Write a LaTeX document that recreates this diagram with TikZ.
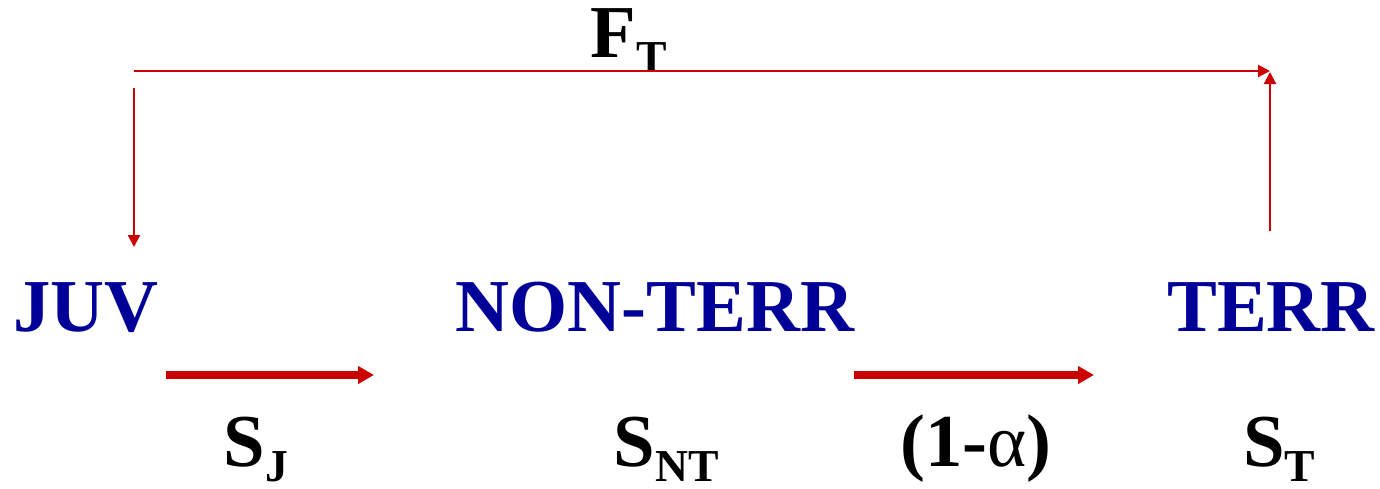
\documentclass[tikz,border=0pt]{standalone}
\usepackage{fontspec}
\setmainfont{Liberation Serif}
\usetikzlibrary{arrows.meta}
\definecolor{stageblue}{RGB}{0,0,153}
\definecolor{flowred}{RGB}{204,0,0}
\newcommand{\rate}[2]{#1\raisebox{-0.3cm}{\fontsize{26}{28}\selectfont #2}}

\begin{document}
\begin{tikzpicture}[
    x={(0.02cm,0cm)}, y={(0cm,-0.02cm)},
    stage/.style={text=stageblue, font=\fontsize{42.5}{50}\selectfont\bfseries, inner sep=0pt, anchor=base},
    ratelabel/.style={font=\fontsize{42.5}{50}\selectfont\bfseries, inner sep=0pt, anchor=base},
    thinflow/.style={flowred, line width=1.2pt, -{Triangle[length=0.24cm, width=0.24cm]}},
    thickflow/.style={flowred, line width=4.5pt, -{Triangle[length=0.32cm, width=0.34cm]}}
]
  \useasboundingbox (0,0) rectangle (1380,488);

  % Life stages
  \node[stage] (juv) at (86,331) {JUV};
  \node[stage] (nonterr) at (655,331) {NON-TERR};
  \node[stage] (terr) at (1271,331) {TERR};

  % Survival and transition labels
  \node[ratelabel] (sj) at (256,466) {\rate{S}{J}};
  \node[ratelabel] (snt) at (666,466) {\rate{S}{NT}};
  \node[ratelabel] (alpha) at (976,466) {(1-{\mdseries α})};
  \node[ratelabel] (st) at (1279,466) {\rate{S}{T}};
  \node[ratelabel] (ft) at (629,57) {\rate{F}{T}};

  % Fecundity loop
  \coordinate (loopl) at (134,71);
  \coordinate (loopr) at (1270,71);
  \coordinate (downs) at (134,88);
  \coordinate (downe) at (134,247);
  \coordinate (ups) at (1270,231);
  \coordinate (upe) at (1270,72);
  \draw[thinflow] (loopl) -- (loopr);
  \draw[thinflow] (downs) -- (downe);
  \draw[thinflow] (ups) -- (upe);

  % Stage transitions
  \coordinate (a1s) at (166,375);
  \coordinate (a1e) at (374,375);
  \coordinate (a2s) at (854,375);
  \coordinate (a2e) at (1094,375);
  \draw[thickflow] (a1s) -- (a1e);
  \draw[thickflow] (a2s) -- (a2e);

\end{tikzpicture}
\end{document}
